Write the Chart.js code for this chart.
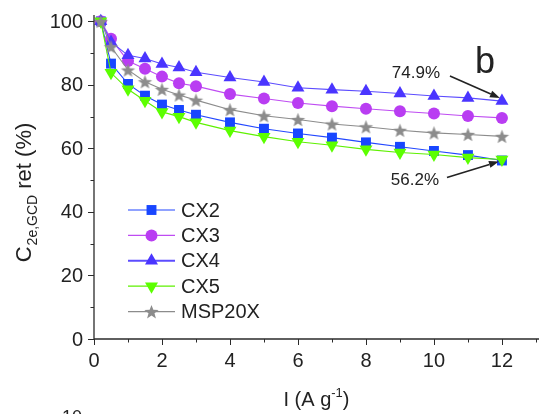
<!DOCTYPE html>
<html lang="en">
<head>
  <meta charset="UTF-8">
  <title>Capacitance retention</title>
  <script src="https://cdn.jsdelivr.net/npm/chart.js"></script>
  <style>
    html, body { margin: 0; padding: 0; background: #fff; }
    #wrap { width: 539px; height: 414px; position: relative; }
  </style>
</head>
<body>
  <div id="wrap"><canvas id="chart"></canvas></div>

  <script>
    // current density (A/g)
    const current = [0.2, 0.5, 1, 1.5, 2, 2.5, 3, 4, 5, 6, 7, 8, 9, 10, 11, 12];

    // capacitance retention (%)
    const cx2   = [100, 86.7, 80.3, 76.6, 73.8, 72.1, 70.6, 68.2, 66.2, 64.7, 63.4, 61.9, 60.5, 59.2, 57.9, 56.2];
    const cx3   = [100, 94.5, 87.5, 85.1, 82.6, 80.5, 79.6, 77.1, 75.7, 74.3, 73.3, 72.5, 71.7, 71.0, 70.2, 69.6];
    const cx4   = [100, 93.5, 89.3, 88.3, 86.6, 85.5, 84.0, 82.3, 80.9, 79.1, 78.5, 78.0, 77.3, 76.5, 75.9, 74.9];
    const cx5   = [100, 83.8, 78.6, 75.0, 71.5, 70.0, 68.2, 65.6, 63.7, 62.1, 61.0, 59.7, 58.7, 58.1, 57.1, 56.5];
    const msp20 = [100, 92.0, 84.7, 81.0, 78.6, 76.8, 75.2, 72.2, 70.3, 69.1, 67.7, 66.8, 65.7, 64.9, 64.4, 63.8];

    const seriesNames = ['CX2', 'CX3', 'CX4', 'CX5', 'MSP20X'];
    const xTicks = [0, 2, 4, 6, 8, 10, 12];
    const yTicks = [0, 20, 40, 60, 80, 100];

    const FONT = 'Arial, "Liberation Sans", sans-serif';
    const AXIS = '#2b2b2b';
    const TEXT = '#222';

    // filled five point star for MSP20X
    function makeStar(color, r) {
      const c = document.createElement('canvas');
      c.width = c.height = Math.ceil(r * 2 + 2);
      const g = c.getContext('2d');
      starPath(g, c.width / 2, c.height / 2 + 0.8, r);
      g.fillStyle = color;
      g.fill();
      return c;
    }
    function starPath(g, cx, cy, r) {
      g.beginPath();
      for (let i = 0; i < 10; i++) {
        const rr = i % 2 ? r * 0.42 : r;
        const a = -Math.PI / 2 + i * Math.PI / 5;
        g.lineTo(cx + rr * Math.cos(a), cy + rr * Math.sin(a));
      }
      g.closePath();
    }
    const starImg = makeStar('#8c8c8c', 7.5);

    function toXY(ys) {
      return current.map((x, i) => ({ x: x, y: ys[i] }));
    }

    function ds(label, ys, line, fill, style, radius, order, rot) {
      return {
        label: label,
        data: toXY(ys),
        borderColor: line,
        borderWidth: 1.1,
        backgroundColor: fill,
        pointBackgroundColor: fill,
        pointBorderColor: fill,
        pointBorderWidth: 0,
        pointStyle: style,
        pointRadius: radius,
        pointRotation: rot || 0,
        pointHoverRadius: radius,
        tension: 0,
        clip: false,
        order: order
      };
    }

    const datasets = [
      ds(seriesNames[0], cx2, '#2347ff', '#1846ff', 'rect', 7, 5),
      ds(seriesNames[1], cx3, '#bf4cf2', '#b93df2', 'circle', 6, 4),
      ds(seriesNames[2], cx4, '#5c4cff', '#4a35ff', 'triangle', 7.5, 3),
      ds(seriesNames[3], cx5, '#5ef000', '#5cff00', 'triangle', 7.5, 2, 180),
      ds(seriesNames[4], msp20, '#8c8c8c', '#8c8c8c', starImg, 7.5, 1)
    ];

    // legend marker drawing
    function marker(g, d, x, y) {
      g.fillStyle = d.pointBackgroundColor;
      const r = d.pointRadius;
      g.beginPath();
      if (d.pointStyle === 'rect') {
        const s = r * Math.SQRT1_2;
        g.rect(x - s, y - s, 2 * s, 2 * s);
      } else if (d.pointStyle === 'circle') {
        g.arc(x, y, r, 0, Math.PI * 2);
      } else if (d.pointStyle === 'triangle') {
        const dir = d.pointRotation ? -1 : 1;
        for (let k = 0; k < 3; k++) {
          const a = k * 2 * Math.PI / 3;
          g.lineTo(x + Math.sin(a) * r, y - dir * Math.cos(a) * r);
        }
        g.closePath();
      } else {
        starPath(g, x, y + 0.8, r);
      }
      g.fill();
    }

    function arrow(g, x1, y1, x2, y2) {
      const ang = Math.atan2(y2 - y1, x2 - x1);
      const hl = 10, hw = 3.5;
      const bx = x2 - hl * Math.cos(ang), by = y2 - hl * Math.sin(ang);
      g.lineWidth = 1.6;
      g.beginPath();
      g.moveTo(x1, y1);
      g.lineTo(bx, by);
      g.stroke();
      g.beginPath();
      g.moveTo(x2, y2);
      g.lineTo(bx + hw * Math.sin(ang), by - hw * Math.cos(ang));
      g.lineTo(bx - hw * Math.sin(ang), by + hw * Math.cos(ang));
      g.closePath();
      g.fill();
    }

    const decor = {
      id: 'decor',
      afterDraw(chart) {
        const g = chart.ctx;
        const xs = chart.scales.x, ys = chart.scales.y;
        const a = chart.chartArea;
        g.save();
        g.strokeStyle = AXIS;
        g.lineWidth = 1.3;
        // axes
        g.beginPath();
        g.moveTo(a.left, a.top);
        g.lineTo(a.left, a.bottom);
        g.lineTo(a.right, a.bottom);
        g.stroke();
        // ticks
        g.lineWidth = 1;
        g.beginPath();
        for (let v = 0; v <= 100; v += 10) {
          const p = Math.round(ys.getPixelForValue(v)) + 0.5;
          const len = v % 20 === 0 ? 6 : 3.5;
          g.moveTo(a.left - len, p);
          g.lineTo(a.left, p);
        }
        for (let v = 0; v <= 13; v += 1) {
          const p = Math.round(xs.getPixelForValue(v)) + 0.5;
          const len = v % 2 === 0 ? 6 : 3.5;
          g.moveTo(p, a.bottom);
          g.lineTo(p, a.bottom + len);
        }
        g.stroke();

        // tick labels
        g.fillStyle = TEXT;
        g.font = '20px ' + FONT;
        g.textAlign = 'right';
        g.textBaseline = 'middle';
        yTicks.forEach(v => g.fillText(String(v), a.left - 11, ys.getPixelForValue(v) + 1));
        g.textAlign = 'center';
        g.textBaseline = 'alphabetic';
        xTicks.forEach(v => g.fillText(String(v), xs.getPixelForValue(v), a.bottom + 28));

        // x title
        const cx = (a.left + a.right) / 2;
        const t1 = 'I (A g', t2 = ')';
        g.font = '20px ' + FONT;
        const w1 = g.measureText(t1).width;
        g.font = '13px ' + FONT;
        const wsup = g.measureText('-1').width;
        g.font = '20px ' + FONT;
        const w2 = g.measureText(t2).width;
        const sx = cx - (w1 + wsup + w2) / 2;
        g.textAlign = 'left';
        g.fillText(t1, sx, 406);
        g.font = '13px ' + FONT;
        g.fillText('-1', sx + w1, 397);
        g.font = '20px ' + FONT;
        g.fillText(t2, sx + w1 + wsup, 406);

        // y title, rotated
        g.save();
        g.translate(31, 0);
        g.rotate(-Math.PI / 2);
        g.font = '22px ' + FONT;
        const wc = g.measureText('C').width;
        g.font = '14px ' + FONT;
        const ws = g.measureText('2e,GCD').width;
        g.font = '22px ' + FONT;
        const wr = g.measureText(' ret (%)').width;
        const start = -(193 + (wc + ws + wr) / 2);
        g.textAlign = 'left';
        g.fillText('C', start, 0);
        g.font = '14px ' + FONT;
        g.fillText('2e,GCD', start + wc + 1, 6);
        g.font = '22px ' + FONT;
        g.fillText(' ret (%)', start + wc + ws + 1, 0);
        g.restore();

        // legend
        const lx = 128, lw = 47;
        g.font = '20px ' + FONT;
        g.textBaseline = 'middle';
        g.textAlign = 'left';
        datasets.forEach((d, i) => {
          const yy = 210 + i * 25.4;
          g.strokeStyle = d.borderColor;
          g.lineWidth = i === 2 ? 2 : 1.2;
          g.beginPath();
          g.moveTo(lx, yy);
          g.lineTo(lx + lw, yy);
          g.stroke();
          marker(g, d, lx + lw / 2, yy);
          g.fillStyle = TEXT;
          g.fillText(d.label, 181, yy + 1);
        });

        // annotations at the last points
        g.fillStyle = TEXT;
        g.strokeStyle = TEXT;
        g.font = '17px ' + FONT;
        g.textAlign = 'center';
        g.textBaseline = 'middle';
        const last = current.length - 1;
        const p4 = { x: xs.getPixelForValue(current[last]), y: ys.getPixelForValue(cx4[last]) };
        const p2 = { x: xs.getPixelForValue(current[last]), y: ys.getPixelForValue(cx2[last]) };
        g.fillText(cx4[last].toFixed(1) + '%', p4.x - 86, p4.y - 28);
        g.fillText(cx2[last].toFixed(1) + '%', p2.x - 87, p2.y + 20);
        arrow(g, p4.x - 52, p4.y - 25, p4.x - 2, p4.y - 3);
        arrow(g, p2.x - 55, p2.y + 17, p2.x - 3, p2.y + 1);

        // panel letter
        g.font = '36px ' + FONT;
        g.textAlign = 'left';
        g.textBaseline = 'alphabetic';
        g.fillText('b', 475, 73);

        // top of the next panel's label
        g.font = '18px ' + FONT;
        g.textAlign = 'center';
        g.textBaseline = 'top';
        g.fillText('10', 72, 409);
        g.restore();
      }
    };

    new Chart(document.getElementById('chart'), {
      type: 'line',
      data: { datasets: datasets },
      plugins: [decor],
      options: {
        responsive: true,
        maintainAspectRatio: false,
        animation: false,
        layout: { autoPadding: false, padding: { top: 15, right: 0, left: 0, bottom: 0 } },
        plugins: {
          legend: { display: false },
          tooltip: { enabled: false }
        },
        scales: {
          x: {
            type: 'linear',
            min: 0,
            max: 13.09,
            afterBuildTicks: s => { s.ticks = xTicks.map(v => ({ value: v })); },
            afterFit: s => { s.height = 75; },
            grid: { display: false },
            border: { display: false },
            ticks: { display: false }
          },
          y: {
            min: 0,
            max: 102,
            afterBuildTicks: s => { s.ticks = yTicks.map(v => ({ value: v })); },
            afterFit: s => { s.width = 94; },
            grid: { display: false },
            border: { display: false },
            ticks: { display: false }
          }
        }
      }
    });
  </script>
</body>
</html>
